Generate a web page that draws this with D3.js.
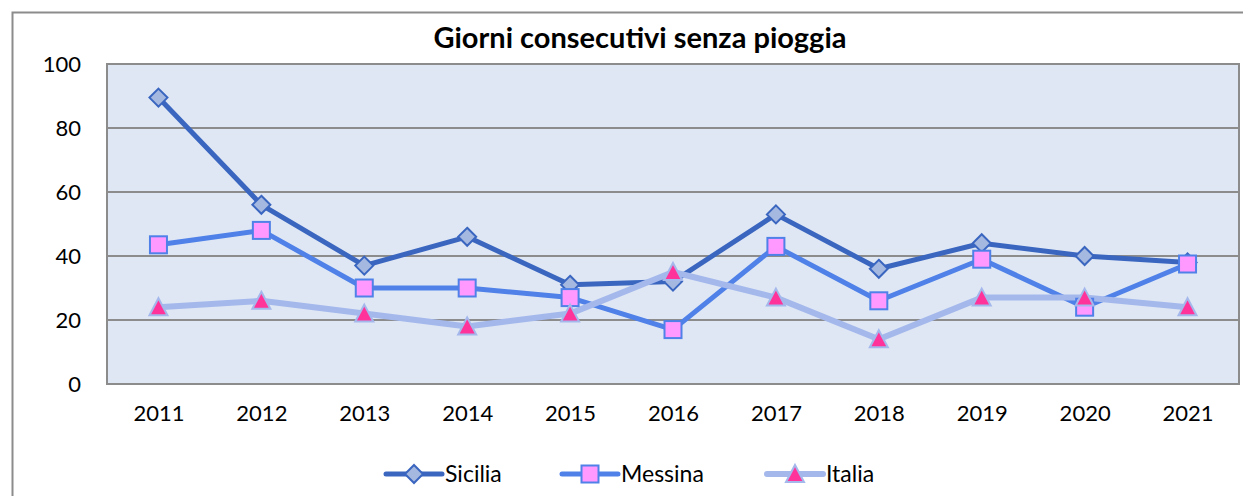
<!DOCTYPE html>
<html>
<head>
<meta charset="utf-8">
<script src="https://cdn.jsdelivr.net/npm/d3@7"></script>
<style>
  body { margin: 0; background: #fff; }
  svg text { font-family: Lato, Carlito, Calibri, sans-serif; fill: #000; }
</style>
</head>
<body>
<div id="chart"></div>
<script>
const years = ["2011", "2012", "2013", "2014", "2015", "2016", "2017", "2018", "2019", "2020", "2021"];
const sicilia = [89.5, 56, 37, 46, 31, 32, 53, 36, 44, 40, 38];
const messina = [43.5, 48, 30, 30, 27, 17, 43, 26, 39, 24, 37.5];
const italia = [24, 26, 22, 18, 22, 35, 27, 14, 27, 27, 24];
const yTicks = [0, 20, 40, 60, 80, 100];

const W = 1243, H = 496;
const margin = { top: 64, right: 4, bottom: 112, left: 107 };
const width = W - margin.left - margin.right;
const height = H - margin.top - margin.bottom;

const root = d3.select("#chart").append("svg")
    .attr("width", W)
    .attr("height", H);

// outer chart border (extends past the picture on right/bottom)
root.append("rect")
    .attr("x", 12.5).attr("y", 12.5)
    .attr("width", W + 20).attr("height", H + 20)
    .attr("fill", "none")
    .attr("stroke", "#8c8c8c")
    .attr("stroke-width", 2);

root.append("text")
    .attr("x", 640).attr("y", 48)
    .attr("text-anchor", "middle")
    .style("font-size", "29px")
    .style("font-weight", "bold")
    .text("Giorni consecutivi senza pioggia");

const svg = root.append("g")
    .attr("transform", `translate(${margin.left},${margin.top})`);

const x = d3.scalePoint().domain(years).range([0, width]).padding(0.5);
const y = d3.scaleLinear().domain([0, 100]).range([height, 0]);

svg.append("rect")
    .attr("width", width).attr("height", height)
    .attr("fill", "#dfe7f4")
    .attr("stroke", "#8c8c8c")
    .attr("stroke-width", 2);

svg.selectAll(".grid")
    .data(yTicks)
    .join("line")
    .attr("x1", 0).attr("x2", width)
    .attr("y1", d => y(d)).attr("y2", d => y(d))
    .attr("stroke", "#8c8c8c")
    .attr("stroke-width", 2);

const yAxis = svg.append("g").call(d3.axisLeft(y).tickValues(yTicks).tickSize(0).tickPadding(26));
yAxis.select(".domain").remove();
yAxis.selectAll("text").style("font-size", "22px").attr("font-family", null);

const xAxis = svg.append("g")
    .attr("transform", `translate(0,${height})`)
    .call(d3.axisBottom(x).tickSize(0).tickPadding(21));
xAxis.select(".domain").remove();
xAxis.selectAll("text").style("font-size", "22px").attr("font-family", null);

const series = [
  { name: "Sicilia", values: sicilia, line: "#3a66c0", width: 5, fill: "#a5b8e0", stroke: "#3a66c0", shape: "diamond" },
  { name: "Messina", values: messina, line: "#4f81e8", width: 5, fill: "#ff99ff", stroke: "#4f81e8", shape: "square" },
  { name: "Italia", values: italia, line: "#a4b8ec", width: 6, fill: "#ff3399", stroke: "#a4b8ec", shape: "triangle" }
];

function marker(g, s) {
  if (s.shape === "diamond") {
    g.append("path").attr("d", "M0,-9L9,0L0,9L-9,0Z");
  } else if (s.shape === "square") {
    g.append("rect").attr("x", -8.5).attr("y", -8.5).attr("width", 17).attr("height", 17);
  } else {
    g.append("path").attr("d", "M0,-9L9,8L-9,8Z");
  }
  g.selectAll("path,rect")
    .attr("fill", s.fill)
    .attr("stroke", s.stroke)
    .attr("stroke-width", 2)
    .attr("stroke-linejoin", "miter");
}

const line = d3.line().x((d, i) => x(years[i])).y(d => y(d));

series.forEach(s => {
  svg.append("path")
    .datum(s.values)
    .attr("fill", "none")
    .attr("stroke", s.line)
    .attr("stroke-width", s.width)
    .attr("stroke-linejoin", "round")
    .attr("d", line);
});

series.forEach(s => {
  s.values.forEach((v, i) => {
    const g = svg.append("g").attr("transform", `translate(${x(years[i])},${y(v)})`);
    marker(g, s);
  });
});

// legend
const legendX = [386, 562, 767];
series.forEach((s, i) => {
  const g = root.append("g").attr("transform", `translate(${legendX[i]},474)`);
  g.append("line")
    .attr("x1", 0).attr("x2", 56)
    .attr("stroke", s.line)
    .attr("stroke-width", s.width)
    .attr("stroke-linecap", "round");
  const m = g.append("g").attr("transform", "translate(28,0)");
  marker(m, s);
  g.append("text")
    .attr("x", 59).attr("y", 8)
    .style("font-size", "23px")
    .text(s.name);
});
</script>
</body>
</html>
